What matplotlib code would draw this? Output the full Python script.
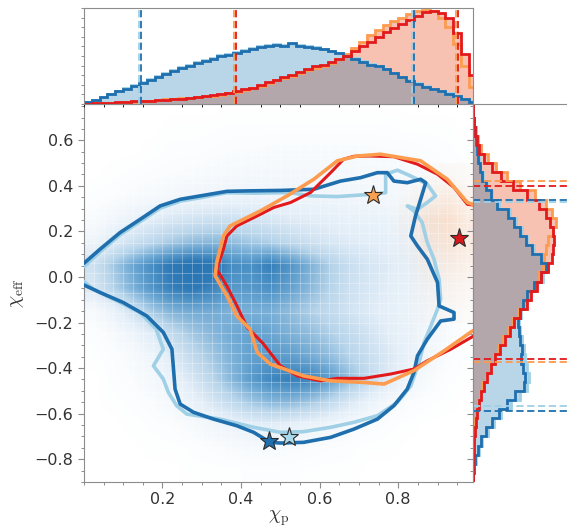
import numpy as np
import matplotlib.pyplot as plt
from matplotlib.ticker import MultipleLocator, NullFormatter
from matplotlib.colors import to_rgb, LinearSegmentedColormap

plt.rcParams['mathtext.fontset'] = 'cm'
plt.rcParams['font.size'] = 11.5

DARK = '#1f6fae'
LIGHT = '#9fd0e6'
RED = '#e31a1c'
ORANGE = '#fd9b4f'

# ---- 2D posterior density (blue run), rows top -> bottom ----
dens_xlim = (0.0, 1.0)
dens_ylim = (-0.9, 0.8)
blue_density = [
    [0.00]*20,
    [0, 0, 0, 0, 0.01, 0.01, 0.01, 0.02, 0.02, 0.02, 0.02, 0.02, 0.02, 0.02, 0.02, 0.02, 0.01, 0.01, 0.01, 0],
    [0, 0, 0, 0.01, 0.02, 0.02, 0.03, 0.04, 0.04, 0.05, 0.05, 0.05, 0.05, 0.05, 0.05, 0.04, 0.04, 0.03, 0.02, 0.01],
    [0, 0.01, 0.02, 0.03, 0.04, 0.05, 0.06, 0.07, 0.08, 0.08, 0.08, 0.08, 0.08, 0.08, 0.07, 0.07, 0.06, 0.05, 0.03, 0.02],
    [0.02, 0.03, 0.05, 0.07, 0.09, 0.11, 0.12, 0.13, 0.13, 0.12, 0.12, 0.11, 0.11, 0.10, 0.10, 0.09, 0.08, 0.06, 0.04, 0.02],
    [0.05, 0.10, 0.15, 0.20, 0.25, 0.28, 0.30, 0.30, 0.28, 0.25, 0.22, 0.20, 0.18, 0.16, 0.15, 0.14, 0.12, 0.08, 0.05, 0.03],
    [0.12, 0.22, 0.30, 0.38, 0.45, 0.50, 0.52, 0.50, 0.45, 0.42, 0.36, 0.30, 0.25, 0.22, 0.20, 0.18, 0.15, 0.10, 0.06, 0.03],
    [0.30, 0.45, 0.60, 0.72, 0.82, 0.88, 0.85, 0.72, 0.70, 0.78, 0.68, 0.55, 0.42, 0.32, 0.26, 0.22, 0.18, 0.12, 0.07, 0.03],
    [0.25, 0.40, 0.55, 0.68, 0.78, 0.82, 0.76, 0.66, 0.66, 0.70, 0.62, 0.52, 0.40, 0.30, 0.25, 0.20, 0.16, 0.11, 0.06, 0.03],
    [0.06, 0.15, 0.30, 0.45, 0.55, 0.58, 0.58, 0.55, 0.56, 0.56, 0.50, 0.42, 0.35, 0.28, 0.22, 0.18, 0.14, 0.10, 0.05, 0.02],
    [0.02, 0.06, 0.12, 0.22, 0.35, 0.45, 0.52, 0.58, 0.62, 0.60, 0.55, 0.50, 0.42, 0.35, 0.28, 0.20, 0.15, 0.10, 0.05, 0.02],
    [0.01, 0.03, 0.06, 0.12, 0.22, 0.35, 0.45, 0.55, 0.62, 0.65, 0.64, 0.58, 0.50, 0.40, 0.32, 0.24, 0.16, 0.10, 0.04, 0.01],
    [0, 0.02, 0.04, 0.08, 0.15, 0.25, 0.38, 0.52, 0.65, 0.74, 0.78, 0.75, 0.65, 0.50, 0.35, 0.22, 0.12, 0.06, 0.02, 0.01],
    [0, 0.01, 0.02, 0.04, 0.08, 0.15, 0.25, 0.35, 0.45, 0.52, 0.52, 0.46, 0.36, 0.25, 0.15, 0.08, 0.04, 0.02, 0.01, 0],
    [0, 0, 0.01, 0.02, 0.03, 0.06, 0.10, 0.14, 0.18, 0.20, 0.18, 0.14, 0.10, 0.06, 0.04, 0.02, 0.01, 0, 0, 0],
    [0, 0, 0, 0.01, 0.01, 0.02, 0.03, 0.05, 0.06, 0.06, 0.05, 0.04, 0.03, 0.02, 0.01, 0.01, 0, 0, 0, 0],
    [0, 0, 0, 0, 0, 0.01, 0.01, 0.01, 0.02, 0.02, 0.02, 0.01, 0.01, 0.01, 0, 0, 0, 0, 0, 0],
]

# faint orange density patch near maximal chi_p
orange_xlim = (0.8, 1.0)
orange_ylim = (-0.2, 0.5)
orange_density = [
    [0.00, 0.05, 0.10, 0.05],
    [0.05, 0.20, 0.30, 0.20],
    [0.10, 0.45, 0.50, 0.30],
    [0.05, 0.35, 0.40, 0.30],
    [0.02, 0.20, 0.25, 0.20],
    [0.00, 0.10, 0.15, 0.12],
    [0.00, 0.05, 0.08, 0.05],
]

# ---- 90% credible contours ----
dark_cx = [0.0, 0.041, 0.092, 0.143, 0.194, 0.245, 0.296, 0.364, 0.415, 0.5, 0.585, 0.653,
           0.704, 0.747, 0.772, 0.789, 0.823, 0.857, 0.87, 0.857, 0.844, 0.832, 0.849, 0.874,
           0.9, 0.904, 0.942, 0.942, 0.908, 0.874, 0.849, 0.84, 0.823, 0.789, 0.747, 0.687,
           0.628, 0.559, 0.5, 0.474, 0.432, 0.389, 0.33, 0.279, 0.245, 0.232, 0.228, 0.224,
           0.202, 0.16, 0.1, 0.041, 0.0]
dark_cy = [0.06, 0.122, 0.195, 0.253, 0.312, 0.341, 0.356, 0.376, 0.378, 0.38, 0.385, 0.421,
           0.436, 0.458, 0.458, 0.421, 0.414, 0.429, 0.414, 0.341, 0.268, 0.18, 0.136, 0.078,
           -0.024, -0.127, -0.156, -0.185, -0.193, -0.273, -0.346, -0.419, -0.492, -0.565, -0.624, -0.668,
           -0.704, -0.726, -0.729, -0.726, -0.682, -0.653, -0.624, -0.594, -0.558, -0.492, -0.404, -0.317,
           -0.243, -0.171, -0.112, -0.068, -0.035]

light_cx = [0.0, 0.041, 0.092, 0.143, 0.194, 0.245, 0.296, 0.364, 0.432, 0.5, 0.526, 0.577,
            0.645, 0.73, 0.768, 0.768, 0.798, 0.832, 0.874, 0.895, 0.874, 0.849, 0.823, 0.84,
            0.861, 0.874, 0.891, 0.904, 0.908, 0.9, 0.883, 0.866, 0.853, 0.832, 0.798, 0.747,
            0.687, 0.628, 0.559, 0.5, 0.432, 0.347, 0.262, 0.236, 0.215, 0.202, 0.177, 0.202,
            0.184, 0.143, 0.075, 0.024, 0.0]
light_cy = [0.045, 0.11, 0.185, 0.243, 0.302, 0.333, 0.348, 0.37, 0.368, 0.37, 0.37, 0.356,
            0.353, 0.363, 0.37, 0.451, 0.469, 0.443, 0.407, 0.356, 0.327, 0.297, 0.312, 0.29,
            0.239, 0.151, 0.078, -0.01, -0.097, -0.141, -0.215, -0.287, -0.375, -0.478, -0.55, -0.609,
            -0.638, -0.66, -0.679, -0.682, -0.66, -0.624, -0.602, -0.565, -0.507, -0.448, -0.39, -0.317,
            -0.229, -0.156, -0.097, -0.053, -0.02]

red_cx = [1.02, 0.976, 0.942, 0.9, 0.849, 0.789, 0.73, 0.687, 0.661, 0.628, 0.577, 0.526,
          0.483, 0.441, 0.389, 0.364, 0.355, 0.338, 0.364, 0.389, 0.415, 0.455, 0.5, 0.543,
          0.602, 0.645, 0.713, 0.781, 0.84, 0.874, 0.934, 0.993, 1.02]
red_cy = [0.31, 0.319, 0.393, 0.451, 0.495, 0.528, 0.531, 0.53, 0.517, 0.458, 0.371, 0.327,
          0.305, 0.268, 0.224, 0.18, 0.122, 0.034, -0.04, -0.125, -0.22, -0.29, -0.39, -0.434,
          -0.456, -0.445, -0.445, -0.426, -0.404, -0.368, -0.317, -0.258, -0.25]

orange_cx = [1.02, 0.976, 0.925, 0.857, 0.755, 0.696, 0.645, 0.585, 0.517, 0.449, 0.372, 0.355,
             0.338, 0.334, 0.364, 0.389, 0.423, 0.441, 0.474, 0.559, 0.628, 0.713, 0.764, 0.84,
             0.917, 0.989, 1.02]
orange_cy = [0.30, 0.327, 0.429, 0.51, 0.539, 0.531, 0.51, 0.429, 0.356, 0.29, 0.224, 0.18,
             0.064, 0.005, -0.083, -0.171, -0.229, -0.331, -0.382, -0.434, -0.456, -0.463, -0.47, -0.411,
             -0.324, -0.237, -0.22]

# maximum-likelihood points
star_x = [0.47, 0.521, 0.737, 0.955]
star_y = [-0.719, -0.704, 0.358, 0.173]
star_colors = [DARK, '#a9daee', '#f9a04f', '#d7191c']

# ---- marginal histograms ----
chi_p_edges = np.linspace(0.0, 1.0, 51)
chi_p_dark = [0.015, 0.04, 0.07, 0.10, 0.13, 0.16, 0.19, 0.22, 0.25, 0.28, 0.31, 0.34, 0.37,
              0.40, 0.43, 0.45, 0.47, 0.50, 0.51, 0.53, 0.55, 0.57, 0.59, 0.60, 0.61, 0.60,
              0.63, 0.60, 0.59, 0.58, 0.57, 0.55, 0.53, 0.50, 0.47, 0.44, 0.41, 0.39, 0.36,
              0.32, 0.28, 0.24, 0.21, 0.18, 0.155, 0.13, 0.105, 0.08, 0.05, 0.02]
chi_p_light = [0.02, 0.045, 0.075, 0.105, 0.135, 0.165, 0.195, 0.225, 0.255, 0.29, 0.32, 0.35, 0.38,
               0.41, 0.44, 0.46, 0.48, 0.51, 0.52, 0.54, 0.56, 0.58, 0.60, 0.61, 0.62, 0.61,
               0.62, 0.61, 0.60, 0.59, 0.575, 0.555, 0.535, 0.505, 0.475, 0.445, 0.415, 0.39, 0.36,
               0.32, 0.285, 0.245, 0.215, 0.185, 0.16, 0.135, 0.11, 0.085, 0.055, 0.025]
chi_p_red = [0.0, 0.005, 0.008, 0.01, 0.015, 0.02, 0.025, 0.03, 0.035, 0.04, 0.045, 0.05, 0.055,
             0.065, 0.07, 0.08, 0.09, 0.10, 0.11, 0.13, 0.15, 0.17, 0.20, 0.23, 0.25, 0.28,
             0.30, 0.33, 0.36, 0.39, 0.41, 0.44, 0.47, 0.50, 0.55, 0.60, 0.65, 0.70, 0.75,
             0.79, 0.83, 0.87, 0.92, 0.96, 0.97, 0.95, 0.90, 0.74, 0.52, 0.30]
chi_p_orange = [0.0, 0.004, 0.007, 0.01, 0.013, 0.018, 0.022, 0.028, 0.033, 0.04, 0.046, 0.05, 0.058,
                0.062, 0.07, 0.078, 0.085, 0.095, 0.11, 0.12, 0.14, 0.17, 0.19, 0.22, 0.25, 0.27,
                0.29, 0.32, 0.35, 0.37, 0.40, 0.43, 0.47, 0.52, 0.58, 0.65, 0.72, 0.77, 0.82,
                0.86, 0.90, 0.94, 0.97, 0.98, 0.97, 0.90, 0.80, 0.62, 0.40, 0.18]

chi_eff_edges = np.linspace(-0.9, 0.78, 43)
chi_eff_dark = [0.0, 0.01, 0.02, 0.05, 0.09, 0.14, 0.20, 0.28, 0.36, 0.45, 0.54, 0.55, 0.53, 0.51,
                0.52, 0.50, 0.49, 0.48, 0.50, 0.53, 0.58, 0.65, 0.72, 0.78, 0.72, 0.63, 0.56, 0.50,
                0.44, 0.37, 0.26, 0.19, 0.14, 0.10, 0.075, 0.055, 0.04, 0.03, 0.02, 0.01, 0.005, 0.0]
chi_eff_light = [0.0, 0.01, 0.03, 0.06, 0.10, 0.16, 0.22, 0.30, 0.40, 0.50, 0.58, 0.60, 0.57, 0.55,
                 0.54, 0.52, 0.50, 0.49, 0.51, 0.54, 0.60, 0.67, 0.74, 0.80, 0.74, 0.65, 0.58, 0.52,
                 0.46, 0.39, 0.28, 0.20, 0.15, 0.11, 0.08, 0.06, 0.045, 0.03, 0.02, 0.01, 0.005, 0.0]
chi_eff_red = [0.0, 0.0, 0.005, 0.01, 0.015, 0.02, 0.03, 0.04, 0.06, 0.085, 0.115, 0.15, 0.19, 0.24,
               0.29, 0.34, 0.39, 0.44, 0.50, 0.57, 0.62, 0.68, 0.72, 0.80, 0.84, 0.85, 0.86, 0.85,
               0.82, 0.78, 0.70, 0.58, 0.43, 0.30, 0.20, 0.12, 0.07, 0.04, 0.02, 0.01, 0.005, 0.0]
chi_eff_orange = [0.0, 0.0, 0.004, 0.005, 0.01, 0.015, 0.025, 0.035, 0.05, 0.075, 0.10, 0.14, 0.18, 0.22,
                  0.27, 0.32, 0.37, 0.43, 0.48, 0.55, 0.60, 0.66, 0.70, 0.74, 0.76, 0.78, 0.80, 0.85,
                  0.88, 0.84, 0.78, 0.66, 0.50, 0.36, 0.25, 0.16, 0.09, 0.05, 0.03, 0.015, 0.005, 0.0]

# 90% interval bounds
chi_p_bounds = {DARK: [0.145, 0.839], LIGHT: [0.14, 0.835], ORANGE: [0.383, 0.946], RED: [0.388, 0.952]}
chi_eff_bounds = {LIGHT: [-0.565, 0.33], DARK: [-0.587, 0.338], ORANGE: [-0.375, 0.421], RED: [-0.36, 0.40]}

BLUE_FILL = '#b9d6e8'
SALMON_FILL = '#f8c2b2'
MIX_FILL = '#b4a7ab'
SPINE = '#8c8c8c'
TXT = '#333333'

density_cmap = LinearSegmentedColormap.from_list(
    'blue_density', ['#ffffff', '#e3eef8', '#b7d4ea', '#6aa6d2', '#2f7bb8', '#1f68a8'])

fig = plt.figure(figsize=(5.67, 5.30), dpi=100)
ax = fig.add_axes([0.148, 0.0906, 0.686, 0.7134])
ax_top = fig.add_axes([0.148, 0.804, 0.686, 0.181], sharex=ax)
ax_right = fig.add_axes([0.834, 0.0906, 0.166, 0.7134], sharey=ax)

# main panel
ax.imshow(np.array(blue_density), extent=[*dens_xlim, *dens_ylim], origin='upper',
          cmap=density_cmap, vmin=0, vmax=1.0, interpolation='bilinear', aspect='auto', zorder=0)
orange_rgba = np.zeros((len(orange_density), len(orange_density[0]), 4))
orange_rgba[..., :3] = to_rgb('#f99a55')
orange_rgba[..., 3] = np.array(orange_density) * 0.55
ax.imshow(orange_rgba, extent=[*orange_xlim, *orange_ylim], origin='upper',
          interpolation='bilinear', aspect='auto', zorder=1)

# histogram cell grid (light seams between the 2D bins)
for gx in np.arange(0.0, 1.0, 0.025):
    ax.plot([gx, gx], [-0.83, 0.62], color='white', lw=0.6, alpha=0.35, zorder=1.5)
for gy in np.arange(-0.9, 0.64, 1.66 / 38):
    ax.plot([0, 0.99], [gy, gy], color='white', lw=0.6, alpha=0.35, zorder=1.5)

ax.plot(light_cx, light_cy, color=LIGHT, lw=2.6, zorder=3, solid_capstyle='round')
ax.plot(dark_cx, dark_cy, color=DARK, lw=2.6, zorder=4, solid_capstyle='round')
ax.plot(orange_cx, orange_cy, color=ORANGE, lw=2.6, zorder=5, solid_capstyle='round')
ax.plot(red_cx, red_cy, color=RED, lw=2.2, zorder=4.5, solid_capstyle='round')
for sx, sy, sc in zip(star_x, star_y, star_colors):
    ax.plot(sx, sy, marker='*', ms=14, color=sc, mec='#2b2b2b', mew=0.8, zorder=10)

ax.set_xlim(0, 0.99)
ax.set_ylim(-0.9, 0.76)
ax.xaxis.set_major_locator(MultipleLocator(0.2))
ax.xaxis.set_minor_locator(MultipleLocator(0.05))
ax.yaxis.set_major_locator(MultipleLocator(0.2))
ax.yaxis.set_minor_locator(MultipleLocator(0.05))
ax.set_xticks([0.2, 0.4, 0.6, 0.8])
ax.tick_params(which='major', direction='out', length=4, width=0.8, color=SPINE,
               labelcolor=TXT, labelsize=11.5)
ax.tick_params(which='minor', direction='out', length=2.5, width=0.7, color=SPINE)
ax.set_xlabel(r'$\chi_{\rm p}$', fontsize=14, color=TXT, labelpad=1)
ax.set_ylabel(r'$\chi_{\rm eff}$', fontsize=14, color=TXT, labelpad=6)
for s in ax.spines.values():
    s.set_color(SPINE)

# top marginal
ax_top.stairs(np.maximum(chi_p_dark, chi_p_light), chi_p_edges, fill=True, color=BLUE_FILL, lw=0)
ax_top.stairs(np.maximum(chi_p_red, chi_p_orange), chi_p_edges, fill=True, color=SALMON_FILL, lw=0)
ax_top.stairs(np.minimum(np.maximum(chi_p_dark, chi_p_light), np.maximum(chi_p_red, chi_p_orange)),
              chi_p_edges, fill=True, color=MIX_FILL, lw=0)
ax_top.stairs(chi_p_light, chi_p_edges, color=LIGHT, lw=2)
ax_top.stairs(chi_p_orange, chi_p_edges, color=ORANGE, lw=2)
ax_top.stairs(chi_p_dark, chi_p_edges, color=DARK, lw=2)
ax_top.stairs(chi_p_red, chi_p_edges, color=RED, lw=2)
for c, bounds in chi_p_bounds.items():
    for b in bounds:
        ax_top.axvline(b, color=c, lw=1.3, ls=(0, (4, 2)))
ax_top.set_ylim(0, 1.0)
ax_top.yaxis.set_major_locator(MultipleLocator(0.1))
ax_top.yaxis.set_major_formatter(NullFormatter())
ax_top.tick_params(axis='y', direction='out', length=2.5, width=0.7, color=SPINE)
ax_top.tick_params(axis='x', bottom=False, labelbottom=False)
for s in ax_top.spines.values():
    s.set_color(SPINE)

# right marginal
ax_right.stairs(np.maximum(chi_eff_dark, chi_eff_light), chi_eff_edges, fill=True,
                color=BLUE_FILL, lw=0, orientation='horizontal')
ax_right.stairs(np.maximum(chi_eff_red, chi_eff_orange), chi_eff_edges, fill=True,
                color=SALMON_FILL, lw=0, orientation='horizontal')
ax_right.stairs(np.minimum(np.maximum(chi_eff_dark, chi_eff_light), np.maximum(chi_eff_red, chi_eff_orange)),
                chi_eff_edges, fill=True, color=MIX_FILL, lw=0, orientation='horizontal')
ax_right.stairs(chi_eff_light, chi_eff_edges, color=LIGHT, lw=2, orientation='horizontal')
ax_right.stairs(chi_eff_orange, chi_eff_edges, color=ORANGE, lw=2, orientation='horizontal')
ax_right.stairs(chi_eff_dark, chi_eff_edges, color=DARK, lw=2, orientation='horizontal')
ax_right.stairs(chi_eff_red, chi_eff_edges, color=RED, lw=2, orientation='horizontal')
for c, bounds in chi_eff_bounds.items():
    for b in bounds:
        ax_right.axhline(b, color=c, lw=1.3, ls=(0, (4, 2)))
ax_right.set_xlim(0, 1.0)
ax_right.tick_params(axis='y', which='both', direction='out', color=SPINE, labelleft=False)
ax_right.tick_params(axis='y', which='major', length=4, width=0.8)
ax_right.tick_params(axis='y', which='minor', length=2.5, width=0.7)
ax_right.tick_params(axis='x', bottom=False, labelbottom=False)
ax_right.spines['right'].set_visible(False)
ax_right.spines['bottom'].set_visible(False)
for s in ax_right.spines.values():
    s.set_color(SPINE)

fig.savefig('out.png', dpi=100)
